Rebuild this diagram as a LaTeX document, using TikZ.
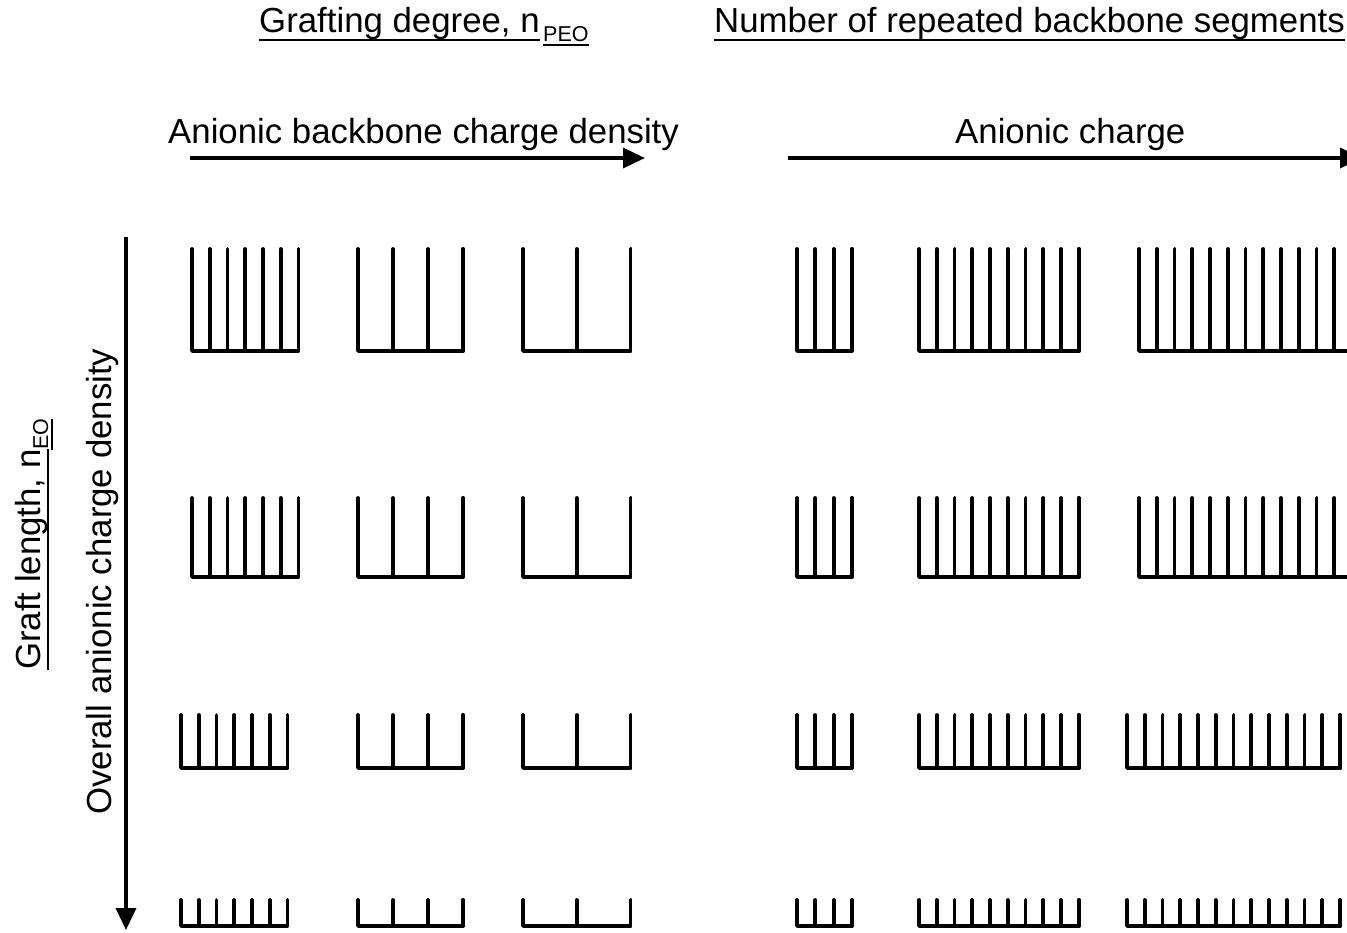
\documentclass[tikz,border=0pt]{standalone}
\usepackage{fontspec}
\setmainfont{Liberation Sans}
\usetikzlibrary{arrows.meta}
\tikzset{
  comb/.style={line width=3.8pt, line join=round, line cap=round, black},
  axis/.style={line width=3.5pt, -{Triangle[length=22pt,width=20pt]}},
  uline/.style={line width=2pt},
  big/.style={inner sep=0pt, font=\fontsize{34.8}{40}\selectfont},
  small/.style={inner sep=0pt, font=\fontsize{21.5}{24}\selectfont},
}
\newcommand\combdraw[5]{% x0, ytop, ybot, n, spacing
  \pgfmathsetmacro\xend{#1+(#4-1)*#5}
  \draw[comb] (#1,#2) -- (#1,#3) -- (\xend,#3) -- (\xend,#2);
  \foreach \k in {2,...,#4}{\draw[comb] ({#1+(\k-1)*#5},#2) -- ({#1+(\k-1)*#5},#3);}
}
\begin{document}
\begin{tikzpicture}[x=1pt,y=-1pt]
\useasboundingbox (0,0) rectangle (1347,932);
\clip (0,0) rectangle (1347,932);
% titles
\node[big, anchor=base west] (t1) at (259,32) {Grafting degree, n};
\node[small, anchor=base west] (t1s) at (543,41) {PEO};
\draw[uline] ([yshift=-1pt]t1.south west) -- ([yshift=-1pt]t1.south east);
\draw[uline] ([yshift=-4pt]t1s.south west) -- ([yshift=-4pt]t1s.south east);
\node[big, anchor=base west] (t2) at (714,32) {Number of repeated backbone segments};
\draw[uline] ([yshift=-1pt]t2.south west) -- ([yshift=-1pt]t2.south east);
% horizontal axes
\node[big, anchor=base west] (t3) at (168,143) {Anionic backbone charge density};
\coordinate (a1s) at (190,158); \coordinate (a1e) at (645,158);
\draw[axis] (a1s) -- (a1e);
\node[big, anchor=base west] (t4) at (955,143) {Anionic charge};
\coordinate (a2s) at (788,158); \coordinate (a2e) at (1362,158);
\draw[axis] (a2s) -- (a2e);
% vertical axis
\coordinate (a3s) at (126,237); \coordinate (a3e) at (126,930);
\draw[axis] (a3s) -- (a3e);
\node[big, anchor=base west, rotate=90] (t5) at (111,815) {Overall anionic charge density};
\node[big, anchor=base west, rotate=90] (t6) at (40,670) {Graft length, n};
\node[small, anchor=base west, rotate=90] (t6s) at (48,450) {EO};
\draw[uline] ([xshift=1pt]t6.south west) -- ([xshift=1pt]t6.south east);
\draw[uline] ([xshift=4pt]t6s.south west) -- ([xshift=4pt]t6s.south east);
% combs
\foreach \yt/\yb/\xa in {249/351/192, 498/577/192, 715/768/181, 900/926/181}{
  \combdraw{\xa}{\yt}{\yb}{7}{17.75}
  \combdraw{358}{\yt}{\yb}{4}{35}
  \combdraw{523}{\yt}{\yb}{3}{53.75}
  \combdraw{797}{\yt}{\yb}{4}{18.3}
  \combdraw{919}{\yt}{\yb}{10}{17.75}
}
\foreach \yt/\yb/\xc in {249/351/1139, 498/577/1139, 715/768/1127, 900/926/1127}{
  \combdraw{\xc}{\yt}{\yb}{13}{17.75}
}
\end{tikzpicture}
\end{document}
